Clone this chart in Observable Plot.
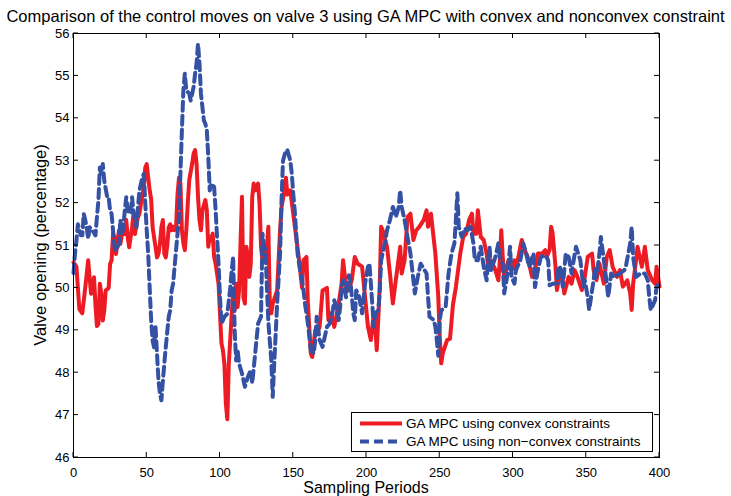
<!DOCTYPE html>
<html><head><meta charset="utf-8">
<script src="https://cdn.jsdelivr.net/npm/d3@7"></script>
<script src="https://cdn.jsdelivr.net/npm/@observablehq/plot@0.6"></script>
<style>body{margin:0;background:#fff;} svg{font-family:"Liberation Sans",Arial,Helvetica,sans-serif;}</style>
</head><body><div id="chart"></div>
<script>
const titleText = "Comparison of the control moves on valve 3 using GA MPC with convex and nonconvex constraint";
const xLabel = "Sampling Periods";
const yLabel = "Valve opening (percentage)";
const seriesNames = ["GA MPC using convex constraints", "GA MPC using non\u2212convex constraints"];
const seriesColors = ["#ed1c24", "#3451a3"];
const xTicks = [0, 50, 100, 150, 200, 250, 300, 350, 400];
const yTicks = [46, 47, 48, 49, 50, 51, 52, 53, 54, 55, 56];

const convexPeriods = [0,2,4,6,8,10,11,12,14,15,16,17,18,19,20,21,22,24,25,26,27,28,29,30,31,32,34,35,36,37,38,40,41,42,43,44,45,46,48,49,50,51,52,53,54,56,57,58,59,60,61,62,63,64,65,66,67,68,69,70,71,72,73,74,75,76,77,78,79,81,82,83,84,85,86,87,88,90,91,92,93,94,95,96,97,99,100,101,102,103,104,105,106,108,109,110,111,112,113,115,116,117,118,119,120,121,122,123,124,126,127,128,129,131,132,133,134,135,136,139,140,141,142,144,145,146,148,150,152,154,156,157,159,160,162,163,165,167,168,170,173,174,176,178,181,183,184,186,188,190,192,194,197,199,201,203,205,206,207,208,209,210,211,214,216,218,220,223,224,226,228,230,232,234,236,239,241,242,244,247,249,250,251,252,255,257,259,261,264,266,268,270,272,273,275,276,277,278,280,282,283,285,288,290,291,292,293,294,297,299,301,302,305,306,308,310,313,315,317,320,322,323,325,326,327,329,330,332,334,335,338,340,342,344,347,349,351,354,355,357,359,362,364,366,368,371,373,375,378,380,381,382,384,385,388,390,392,395,397,398,400];
const convexValues = [50.6,50.5,49.5,49.4,50.0,50.65,50.25,49.86,50.25,49.6,49.1,49.15,50.1,49.86,49.23,49.47,49.94,50.0,50.57,50.65,51.27,51.2,50.8,51.04,51.35,51.04,51.43,51.27,51.6,51.2,50.96,51.43,51.75,51.27,51.5,51.67,51.75,51.98,52.37,52.84,52.92,52.6,52.3,52.1,51.43,50.96,50.72,50.8,51.04,51.43,51.6,50.8,50.72,51.0,51.43,51.5,51.36,51.44,51.36,51.44,52.2,52.6,52.46,51.36,51.05,50.89,51.36,51.99,52.54,52.93,53.17,53.25,52.93,52.15,51.6,51.36,51.83,52.07,51.83,50.97,51.2,51.12,51.28,50.73,50.57,50.1,49.39,48.69,48.53,48.2,47.27,46.9,48.2,49.39,49.94,49.47,50.1,49.55,49.94,52.15,49.78,49.63,50.97,50.73,50.26,50.57,52.15,52.46,52.3,52.46,51.99,50.97,50.65,50.9,50.97,51.44,49.63,49.4,49.63,49.94,50.65,51.36,51.9,52.3,52.6,52.2,52.3,51.75,51.2,50.65,50.0,50.65,50.73,49.63,48.45,48.37,49.0,49.0,49.08,49.94,50.0,49.24,49.4,49.08,49.63,50.1,50.65,50.05,49.95,50.2,50.73,50.57,50.5,49.79,49.08,48.77,49.4,49.08,48.53,49.24,50.02,51.44,51.36,50.97,50.34,49.63,50.18,50.97,50.34,50.65,51.67,51.75,51.13,51.36,51.44,51.6,51.83,51.44,51.75,50.81,49.79,48.85,48.22,48.45,48.77,48.8,49.6,50.02,50.81,51.2,51.28,51.6,51.75,51.28,51.28,51.83,51.52,51.2,51.13,50.81,50.5,50.65,50.42,50.18,50.65,51.36,50.73,50.26,50.65,50.42,50.65,50.42,50.97,51.13,50.89,50.73,50.26,50.42,50.81,50.81,50.89,50.73,50.9,51.44,51.3,50.5,49.95,50.34,50.18,49.87,50.26,50.1,50.42,50.26,49.95,50.26,50.73,50.81,50.42,50.18,50.57,50.1,50.73,50.89,50.5,50.26,50.42,50.03,50.18,49.87,49.48,50.1,50.65,50.97,50.5,50.97,50.42,50.18,50.1,50.5,50.03];

const nonconvexPeriods = [0,1,2,3,5,6,7,8,9,10,11,13,15,16,17,18,19,20,21,23,24,25,26,27,28,29,31,32,33,34,35,36,37,39,40,41,42,43,44,45,47,48,49,50,51,52,53,54,55,56,57,58,59,60,61,62,63,65,66,67,68,69,70,72,73,74,75,76,77,79,80,82,83,84,85,86,87,89,90,91,92,93,94,96,97,98,99,100,101,102,103,105,107,108,109,110,111,112,113,115,117,119,121,122,124,126,128,129,130,131,133,135,136,137,139,141,142,143,145,146,148,149,150,151,152,153,155,156,157,158,159,160,162,164,165,166,168,170,173,175,177,178,180,181,182,183,184,186,188,189,191,192,193,195,197,199,201,202,203,205,206,208,209,210,213,214,216,218,220,222,223,224,226,228,230,231,232,233,235,237,241,242,243,246,247,248,249,250,251,254,255,256,258,260,261,262,263,265,267,269,271,273,274,275,276,278,280,282,283,284,285,288,290,291,293,294,296,298,299,301,302,305,307,309,311,314,315,317,319,322,324,325,327,330,331,332,334,335,336,338,340,341,343,346,347,348,349,351,352,354,355,356,357,359,360,362,364,365,367,369,373,376,377,380,381,382,384,387,390,392,393,394,397,398,400];
const nonconvexValues = [50.35,50.8,51.12,51.5,51.24,51.24,51.75,51.6,51.43,51.16,51.43,51.35,51.24,51.67,52.06,52.84,52.69,52.92,52.53,52.14,52.14,51.82,51.75,51.35,50.96,50.88,51.04,51.6,51.27,51.43,51.82,52.14,51.82,51.75,52.14,51.75,51.6,51.43,51.9,52.3,52.6,52.69,51.98,51.35,50.8,50.0,49.24,48.76,48.6,49.08,48.45,47.82,47.5,47.35,47.8,48.22,48.61,49.32,49.47,49.94,50.1,50.5,50.89,51.67,52.7,53.72,54.66,55.05,54.66,54.58,54.42,54.74,55.05,55.29,55.76,55.29,54.58,53.95,53.87,53.72,53.09,52.3,52.46,52.38,51.83,51.2,50.57,49.78,49.16,49.24,49.32,49.39,50.0,50.42,50.73,49.0,48.29,48.53,48.22,47.98,47.67,47.9,48.06,47.75,48.45,49.16,49.32,51.28,51.0,50.9,49.2,48.3,47.43,48.2,49.63,50.8,52.07,53.0,53.25,53.25,53.0,52.7,52.22,51.83,51.28,50.8,50.34,50.18,49.94,49.63,49.4,49.16,48.53,48.45,48.77,49.32,48.77,48.61,49.08,49.16,49.47,49.71,49.47,49.24,49.55,50.02,50.18,49.78,50.3,50.18,49.4,49.24,49.94,49.79,49.4,50.1,50.5,50.57,50.1,49.08,49.4,49.47,49.87,50.65,51.13,51.36,51.6,51.91,51.67,51.91,52.3,51.91,51.6,51.2,50.81,50.5,50.18,49.87,50.26,50.57,50.34,49.79,49.32,49.24,49.08,48.77,48.4,49.24,49.47,49.55,49.94,50.34,50.81,51.05,51.6,52.23,51.44,51.2,51.4,51.36,51.44,51.05,50.65,50.65,50.65,50.97,50.5,50.18,50.65,50.97,50.42,50.73,51.05,50.73,50.57,49.87,50.26,50.97,50.26,50.1,50.42,50.65,51.05,50.81,50.5,50.81,50.02,50.42,50.73,50.77,50.65,50.06,50.1,50.1,50.5,50.5,50.03,50.42,50.81,50.73,50.34,50.57,50.97,50.65,50.34,50.03,50.18,49.79,49.48,49.95,50.18,50.5,50.26,50.81,51.2,50.65,50.1,49.79,50.34,50.26,50.34,50.42,50.5,51.05,51.44,50.73,50.26,50.34,50.34,50.18,49.79,49.48,49.71,50.03,50.1];

const convex = convexPeriods.map((p, i) => ({period: p, value: convexValues[i]}));
const nonconvex = nonconvexPeriods.map((p, i) => ({period: p, value: nonconvexValues[i]}));

const W = 731, H = 496;
const chart = Plot.plot({
  width: W, height: H,
  marginLeft: 73, marginRight: 72, marginTop: 33, marginBottom: 39,
  style: {fontFamily: '"Liberation Sans", Arial, sans-serif', fontSize: "13px", color: "#000", background: "#fff", overflow: "visible"},
  x: {domain: [0, 400], label: null},
  y: {domain: [46, 56], label: null},
  marks: [
    Plot.axisX(xTicks, {anchor: "bottom", tickSize: 0, tickPadding: 10, fontSize: 13, label: null}),
    Plot.axisY(yTicks, {anchor: "left", tickSize: 0, tickPadding: 4, fontSize: 13, label: null}),
    Plot.line(convex, {x: "period", y: "value", stroke: seriesColors[0], strokeWidth: 4, strokeLinejoin: "round"}),
    Plot.line(nonconvex, {x: "period", y: "value", stroke: seriesColors[1], strokeWidth: 4, strokeDasharray: "9,5"}),
    Plot.frame({stroke: "#000", strokeWidth: 1})
  ]
});

const svg = d3.select(chart);
const sx = chart.scale("x"), sy = chart.scale("y");
const x0 = sx.apply(0), x1 = sx.apply(400), yb = sy.apply(46), yt = sy.apply(56);
const tk = 5;
const tg = svg.append("g").attr("stroke", "#000").attr("stroke-width", 1);
xTicks.forEach(t => {
  const x = sx.apply(t);
  tg.append("line").attr("x1", x).attr("x2", x).attr("y1", yb).attr("y2", yb - tk);
  tg.append("line").attr("x1", x).attr("x2", x).attr("y1", yt).attr("y2", yt + tk);
});
yTicks.forEach(t => {
  const y = sy.apply(t);
  tg.append("line").attr("x1", x0).attr("x2", x0 + tk).attr("y1", y).attr("y2", y);
  tg.append("line").attr("x1", x1).attr("x2", x1 - tk).attr("y1", y).attr("y2", y);
});

// title and axis labels
svg.append("text").attr("x", W / 2).attr("y", 22).attr("text-anchor", "middle")
  .attr("font-size", 16.5).attr("fill", "#000").text(titleText);
svg.append("text").attr("x", (x0 + x1) / 2).attr("y", 493).attr("text-anchor", "middle")
  .attr("font-size", 16).attr("fill", "#000").text(xLabel);
svg.append("text").attr("transform", `translate(46,${(yb + yt) / 2}) rotate(-90)`).attr("text-anchor", "middle")
  .attr("font-size", 16.5).attr("fill", "#000").text(yLabel);

// legend
const lg = svg.append("g").attr("text-anchor", "start");
lg.append("rect").attr("x", 351.5).attr("y", 412.5).attr("width", 301).attr("height", 39)
  .attr("fill", "#fff").attr("stroke", "#000").attr("stroke-width", 1);
seriesNames.forEach((name, i) => {
  const y = 423.5 + i * 18;
  const ln = lg.append("line").attr("x1", 360).attr("x2", 402).attr("y1", y).attr("y2", y)
    .attr("stroke", seriesColors[i]).attr("stroke-width", 4);
  if (i === 1) ln.attr("stroke-dasharray", "9,5");
  lg.append("text").attr("x", 406).attr("y", y + 4.5).attr("text-anchor", "start")
    .attr("font-size", 13.5).attr("fill", "#000").text(name);
});

document.getElementById("chart").appendChild(chart);
</script>
</body></html>
